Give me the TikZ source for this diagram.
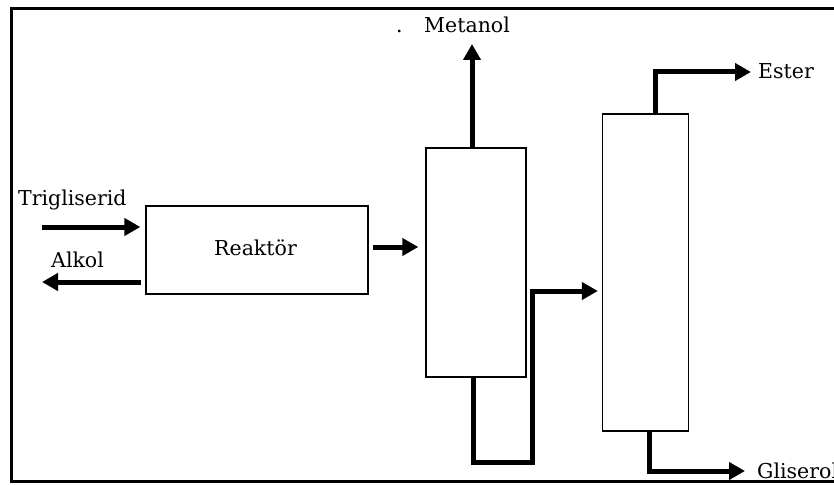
\documentclass[tikz,border=0pt]{standalone}
\usepackage{fontspec}
\setmainfont{DejaVu Serif}
\usetikzlibrary{arrows.meta}
\begin{document}
\begin{tikzpicture}[x=1pt,y=-1pt,
  unit/.style={draw,line width=1.3pt,minimum width=#1,inner sep=0},
  flow/.style={line width=5pt,-{Triangle[length=16pt,width=17pt]}},
  lbl/.style={inner sep=0,font=\fontsize{20.5}{24}\selectfont}]
\useasboundingbox (0,0) rectangle (834,484);
\fill[white] (0,0) rectangle (834,484);
% frame (right side is cut off)
\draw[line width=3pt] (834,8.5) -- (11.5,8.5) -- (11.5,481) -- (834,481);
% units
\node[unit=222pt,minimum height=88pt] (reactor) at (257,250) {};
\node[unit=100pt,minimum height=229pt] (col1) at (476,262.5) {};
\node[unit=86pt,minimum height=317pt] (col2) at (645.5,272.5) {};
% labels
\node[lbl,anchor=base west] (treact) at (214,255) {Reaktör};
\node[lbl,anchor=base west] (ttri) at (18,205) {Trigliserid};
\node[lbl,anchor=base west] (talk) at (51,267) {Alkol};
\node[lbl,anchor=base west] (tdot) at (396,33) {.};
\node[lbl,anchor=base west] (tmet) at (424,33) {Metanol};
\node[lbl,anchor=base west] (test) at (758,79) {Ester};
\node[lbl,anchor=base west] (tgli) at (757,478) {Gliserol};
% connectors
\coordinate (triin) at (42,227);
\coordinate (alkout) at (42,282);
\coordinate (metout) at (472,44);
\coordinate (estout) at (751,72);
\coordinate (gliout) at (745,471);
\draw[flow] (triin) -- ([xshift=-5pt]reactor.west |- triin);
\draw[flow] ([xshift=-4pt]reactor.west |- alkout) -- (alkout);
\draw[flow] ([xshift=4pt,yshift=3pt]reactor.east) -- ([xshift=-7pt,yshift=3pt]col1.west |- reactor.east);
\draw[flow] ([xshift=-4pt]col1.north) -- (metout);
\draw[flow] ([xshift=-3pt]col1.south) -- ++(0,85) -| (532,291) -- ([xshift=-4pt]col2.west |- 0,291);
\draw[flow] ([xshift=10pt]col2.north) |- (estout);
\draw[flow] ([xshift=4pt]col2.south) |- (gliout);
\end{tikzpicture}
\end{document}
